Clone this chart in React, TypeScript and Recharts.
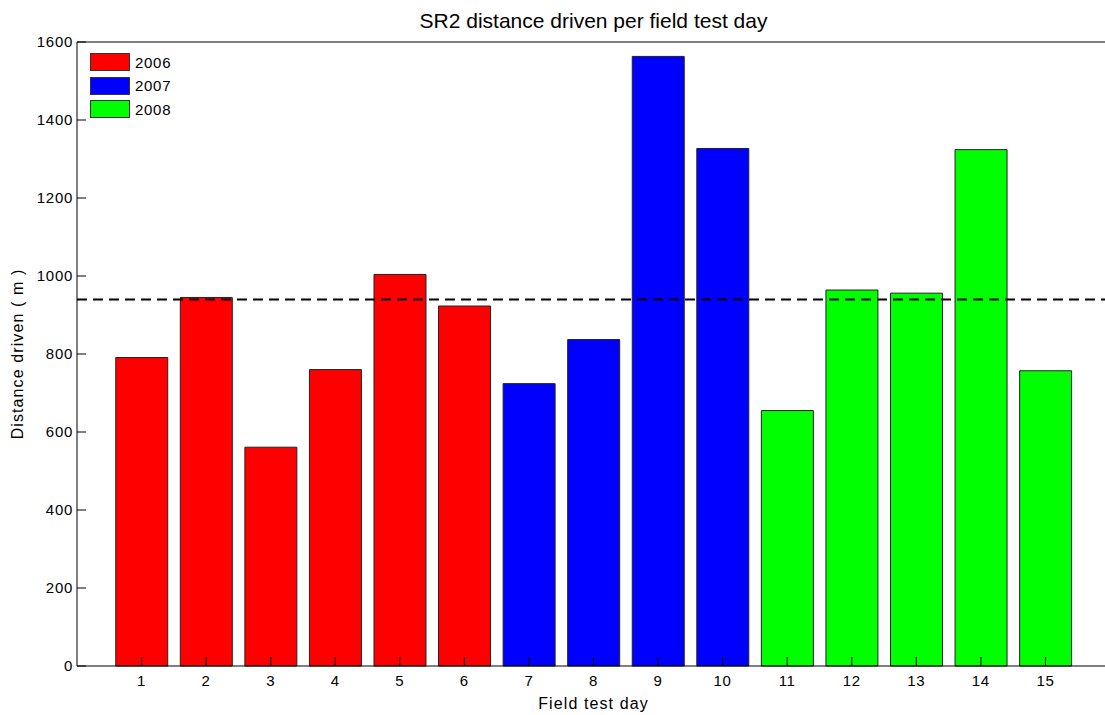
import React from 'react';
import { BarChart, Bar, XAxis, YAxis, Cell, ReferenceLine, Legend, Label } from 'recharts';

// Field test days and the distance driven on each (metres)
const fieldTestDays = [1, 2, 3, 4, 5, 6, 7, 8, 9, 10, 11, 12, 13, 14, 15];
const distanceDriven = [791, 945, 561, 760, 1004, 923, 724, 837, 1563, 1327, 655, 964, 956, 1324, 757];
const testYear = [
  '2006', '2006', '2006', '2006', '2006', '2006',
  '2007', '2007', '2007', '2007',
  '2008', '2008', '2008', '2008', '2008',
];
const legendYears = ['2006', '2007', '2008'];
const yTickValues = [0, 200, 400, 600, 800, 1000, 1200, 1400, 1600];
const meanDistance = 940;

const yearFill: Record<string, string> = {
  '2006': '#ff0000',
  '2007': '#0000ff',
  '2008': '#00ff00',
};

const rows = fieldTestDays.map((day, i) => ({
  day,
  distance: distanceDriven[i],
  year: testYear[i],
}));

const FONT = '"Liberation Sans", Arial, Helvetica, sans-serif';
const tickStyle = { fill: '#000', fontSize: 15, fontFamily: FONT, letterSpacing: 0.7 };
const axisLabelStyle = { fill: '#000', fontSize: 16, fontFamily: FONT, letterSpacing: 1.1 };

function YearLegend() {
  return (
    <div style={{ fontFamily: FONT }}>
      {legendYears.map((year) => (
        <div
          key={year}
          style={{ display: 'flex', alignItems: 'center', height: 18, marginBottom: 5.5 }}
        >
          <div
            style={{
              width: 40,
              height: 18,
              boxSizing: 'border-box',
              border: '1px solid #333',
              background: yearFill[year],
            }}
          />
          <span style={{ marginLeft: 5, fontSize: 15, letterSpacing: 0.7, color: '#000' }}>
            {year}
          </span>
        </div>
      ))}
    </div>
  );
}

export default function App() {
  return (
    <div
      style={{
        position: 'fixed',
        left: 0,
        top: 0,
        width: 1105,
        height: 715,
        overflow: 'hidden',
        background: '#fff',
      }}
    >
      <BarChart
        width={1120}
        height={715}
        data={rows}
        margin={{ top: 32, right: 0, bottom: 0, left: 0 }}
        barCategoryGap="10%"
      >
        <XAxis
          xAxisId="bottom"
          dataKey="day"
          type="number"
          orientation="bottom"
          domain={[0, 16]}
          ticks={fieldTestDays}
          interval={0}
          height={49}
          tickSize={-9}
          tickMargin={18}
          stroke="#000"
          tick={tickStyle}
        >
          <Label
            value="Field test day"
            position="insideBottom"
            offset={6}
            style={axisLabelStyle}
          />
        </XAxis>
        <XAxis
          xAxisId="top"
          dataKey="day"
          type="number"
          orientation="top"
          domain={[0, 16]}
          ticks={fieldTestDays}
          interval={0}
          height={10}
          tickSize={-9}
          stroke="#000"
          tick={false}
        >
          <Label
            value="SR2 distance driven per field test day"
            position="top"
            offset={4}
            style={{ fill: '#000', fontSize: 21, fontFamily: FONT }}
          />
        </XAxis>
        <YAxis
          yAxisId="left"
          type="number"
          domain={[0, 1600]}
          ticks={yTickValues}
          interval={0}
          width={77}
          tickSize={-9}
          tickMargin={13}
          stroke="#000"
          tick={tickStyle}
        >
          <Label
            value="Distance driven ( m )"
            angle={-90}
            position="insideLeft"
            offset={17}
            textAnchor="middle"
            style={axisLabelStyle}
          />
        </YAxis>
        <YAxis
          yAxisId="right"
          orientation="right"
          type="number"
          domain={[0, 1600]}
          ticks={yTickValues}
          interval={0}
          width={10}
          tickSize={-9}
          stroke="#000"
          tick={false}
        />
        <Bar
          xAxisId="bottom"
          yAxisId="left"
          dataKey="distance"
          stroke="#222"
          strokeWidth={1}
          isAnimationActive={false}
        >
          {rows.map((r) => (
            <Cell key={r.day} fill={yearFill[r.year]} />
          ))}
        </Bar>
        <ReferenceLine
          xAxisId="bottom"
          yAxisId="left"
          y={meanDistance}
          stroke="#000"
          strokeWidth={2}
          strokeDasharray="10 6"
        />
        <Legend
          layout="vertical"
          align="center"
          verticalAlign="middle"
          wrapperStyle={{ left: 90, top: 53, width: 100, height: 72 }}
          content={() => <YearLegend />}
        />
      </BarChart>
    </div>
  );
}
